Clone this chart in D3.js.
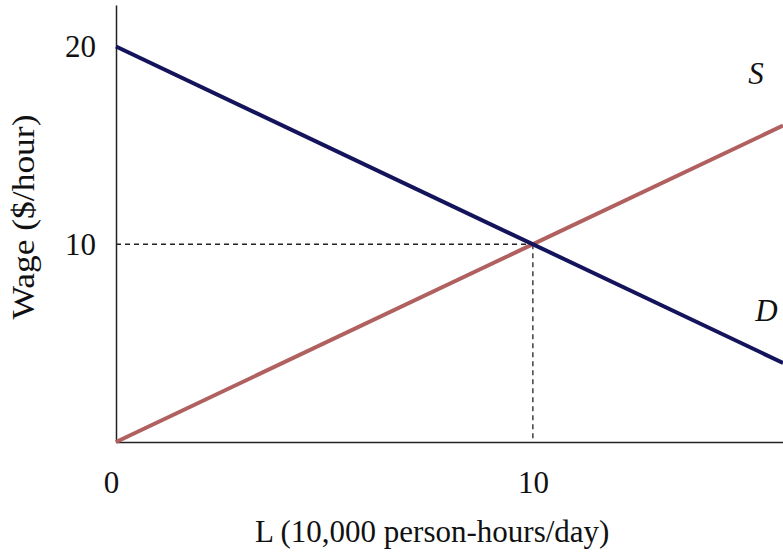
<!DOCTYPE html>
<html>
<head>
<meta charset="utf-8">
<script src="https://cdn.jsdelivr.net/npm/d3@7"></script>
<style>
  body { margin: 0; background: #fff; }
  text { font-family: "Liberation Serif", "Times New Roman", serif; fill: #111; }
</style>
</head>
<body>
<svg id="chart"></svg>
<script>
// labour market: L in 10,000 person-hours/day, wage in $/hour
var lValues = [0, 16];
var demandWage = [20, 4];   // D: W = 20 - L
var supplyWage = [0, 16];   // S: W = L
var equilibrium = { l: 10, w: 10 };
var xTicks = [0, 10];
var yTicks = [10, 20];

var width = 783, height = 554;
var originX = 116, originY = 442;

var chart = d3.select('#chart')
    .attr('width', width)
    .attr('height', height);

var xScale = d3.scaleLinear()
    .domain([0, 16])
    .range([originX, width]);

var yScale = d3.scaleLinear()
    .domain([0, 22.1])
    .range([originY, 5]);

// axes without tick marks, only the labels
var xAxis = chart.append('g')
    .attr('transform', 'translate(0,' + originY + ')')
    .call(d3.axisBottom(xScale).tickValues(xTicks).tickSize(0).tickFormat(d3.format('d')));
xAxis.select('.domain').attr('stroke', '#222').attr('stroke-width', 1.5);
xAxis.selectAll('text')
    .attr('y', 51).attr('dy', 0)
    .attr('font-size', 31)
    .attr('dx', function(d) { return d === 0 ? -5 : 0; });

var yAxis = chart.append('g')
    .attr('transform', 'translate(' + originX + ',0)')
    .call(d3.axisLeft(yScale).tickValues(yTicks).tickSize(0).tickPadding(20));
yAxis.select('.domain').attr('stroke', '#222').attr('stroke-width', 1.5);
yAxis.selectAll('text').attr('font-size', 31);

chart.selectAll('.domain').attr('d', function() {
    return d3.select(this).attr('d');
});

// dashed guides to the equilibrium point
var guides = chart.append('g')
    .attr('stroke', '#222')
    .attr('stroke-width', 1.3)
    .attr('stroke-dasharray', '5,4');
guides.append('line')
    .attr('x1', xScale(0)).attr('y1', yScale(equilibrium.w))
    .attr('x2', xScale(equilibrium.l)).attr('y2', yScale(equilibrium.w));
guides.append('line')
    .attr('x1', xScale(equilibrium.l)).attr('y1', yScale(equilibrium.w))
    .attr('x2', xScale(equilibrium.l)).attr('y2', yScale(0));

var line = d3.line()
    .x(function(d) { return xScale(d[0]); })
    .y(function(d) { return yScale(d[1]); });

chart.append('path')
    .datum(d3.zip(lValues, supplyWage))
    .attr('d', line)
    .attr('fill', 'none')
    .attr('stroke', '#b0605f')
    .attr('stroke-width', 4);

chart.append('path')
    .datum(d3.zip(lValues, demandWage))
    .attr('d', line)
    .attr('fill', 'none')
    .attr('stroke', '#14145c')
    .attr('stroke-width', 4);

// curve labels
chart.append('text')
    .attr('x', xScale(15.35)).attr('y', yScale(18.1))
    .attr('font-size', 31).attr('font-style', 'italic')
    .attr('text-anchor', 'middle')
    .text('S');
chart.append('text')
    .attr('x', xScale(15.6)).attr('y', yScale(6.1))
    .attr('font-size', 31).attr('font-style', 'italic')
    .attr('text-anchor', 'middle')
    .text('D');

// axis titles
chart.append('text')
    .attr('x', 255).attr('y', 542)
    .attr('font-size', 31)
    .text('L (10,000 person-hours/day)');

chart.append('text')
    .attr('transform', 'translate(34,217) rotate(-90)')
    .attr('text-anchor', 'middle')
    .attr('font-size', 31)
    .attr('textLength', 205)
    .attr('lengthAdjust', 'spacingAndGlyphs')
    .text('Wage ($/hour)');
</script>
</body>
</html>
